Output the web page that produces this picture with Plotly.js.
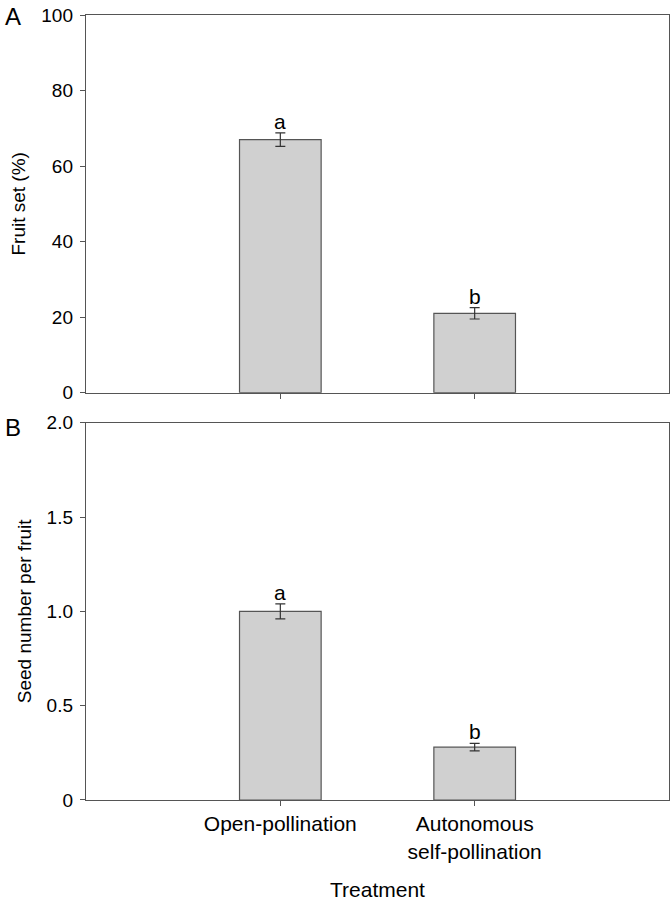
<!DOCTYPE html>
<html>
<head>
<meta charset="utf-8">
<script src="https://cdn.plot.ly/plotly-3.0.1.min.js"></script>
<style>
  body { margin: 0; background: #fff; }
  #plot { width: 672px; height: 909px; }
</style>
</head>
<body>
<div id="plot"></div>
<script>
// data
let treatments = ["Open-pollination", "Autonomous<br>self-pollination"];
let fruitset = [67, 21];
let fruitsetErr = [1.8, 1.5];
let seeds = [1.0, 0.28];
let seedsErr = [0.04, 0.02];
let letters = ["a", "b"];

let xpos = [1, 2];
let font = "Liberation Sans, Arial, Helvetica, sans-serif";
let axcol = "#555";

function bartrace(vals, errs, xa, ya) {
  return {
    x: xpos,
    y: vals,
    type: "bar",
    width: 0.42,
    marker: { color: "#d0d0d0", line: { color: "#555", width: 1.2 } },
    error_y: { type: "data", array: errs, visible: true, color: "#333", thickness: 1.2, width: 5 },
    xaxis: xa,
    yaxis: ya,
    hoverinfo: "none"
  };
}

let traceA = bartrace(fruitset, fruitsetErr, "x", "y");
let traceB = bartrace(seeds, seedsErr, "x2", "y2");

let annots = [];
for (let i = 0; i < xpos.length; i++) {
  annots.push({ x: xpos[i], y: fruitset[i] + fruitsetErr[i], xref: "x", yref: "y", text: letters[i],
    showarrow: false, yanchor: "bottom", yshift: -2, font: { family: font, size: 21, color: "#000" } });
  annots.push({ x: xpos[i], y: seeds[i] + seedsErr[i], xref: "x2", yref: "y2", text: letters[i],
    showarrow: false, yanchor: "bottom", yshift: -2, font: { family: font, size: 21, color: "#000" } });
}
// panel letters
annots.push({ x: -0.1255, y: 1.0, xref: "paper", yref: "paper", text: "A", showarrow: false,
  xanchor: "center", yanchor: "middle", yshift: -1, font: { family: font, size: 24, color: "#000" } });
annots.push({ x: -0.1255, y: 0.4806, xref: "paper", yref: "paper", text: "B", showarrow: false,
  xanchor: "center", yanchor: "middle", yshift: -5, font: { family: font, size: 24, color: "#000" } });
// x axis title
annots.push({ x: 0.5, y: -0.1134, xref: "paper", yref: "paper", text: "Treatment", showarrow: false,
  xanchor: "center", yanchor: "middle", font: { family: font, size: 21, color: "#000" } });

let xbase = {
  range: [0, 3],
  tickvals: xpos,
  ticks: "outside",
  ticklen: 5,
  tickcolor: axcol,
  showline: true,
  linecolor: axcol,
  linewidth: 1.2,
  mirror: true,
  showgrid: false,
  zeroline: false
};

let ybase = {
  ticks: "outside",
  ticklen: 5,
  tickcolor: axcol,
  showline: true,
  linecolor: axcol,
  linewidth: 1.2,
  mirror: true,
  showgrid: false,
  zeroline: false,
  ticklabelstandoff: 3,
  tickfont: { family: font, size: 19, color: "#000" }
};

let layout = {
  width: 672,
  height: 909,
  margin: { l: 86, r: 3, t: 15, b: 109 },
  paper_bgcolor: "#fff",
  plot_bgcolor: "#fff",
  showlegend: false,
  font: { family: font, color: "#000" },
  xaxis: Object.assign({}, xbase, { domain: [0, 1], anchor: "y", showticklabels: false }),
  yaxis: Object.assign({}, ybase, { domain: [0.5189, 1], anchor: "x", range: [0, 100], tickvals: [0, 20, 40, 60, 80, 100],
    title: { text: "Fruit set (%)", font: { family: font, size: 19 }, standoff: 10 } }),
  xaxis2: Object.assign({}, xbase, { domain: [0, 1], anchor: "y2", ticktext: treatments,
    tickfont: { family: font, size: 21, color: "#000" } }),
  yaxis2: Object.assign({}, ybase, { domain: [0, 0.4806], anchor: "x2", range: [0, 2], tickvals: [0, 0.5, 1, 1.5, 2],
    ticktext: ["0", "0.5", "1.0", "1.5", "2.0"],
    title: { text: "Seed number per fruit", font: { family: font, size: 19 }, standoff: 10 } }),
  annotations: annots
};

Plotly.newPlot("plot", [traceA, traceB], layout, { staticPlot: true });
</script>
</body>
</html>
